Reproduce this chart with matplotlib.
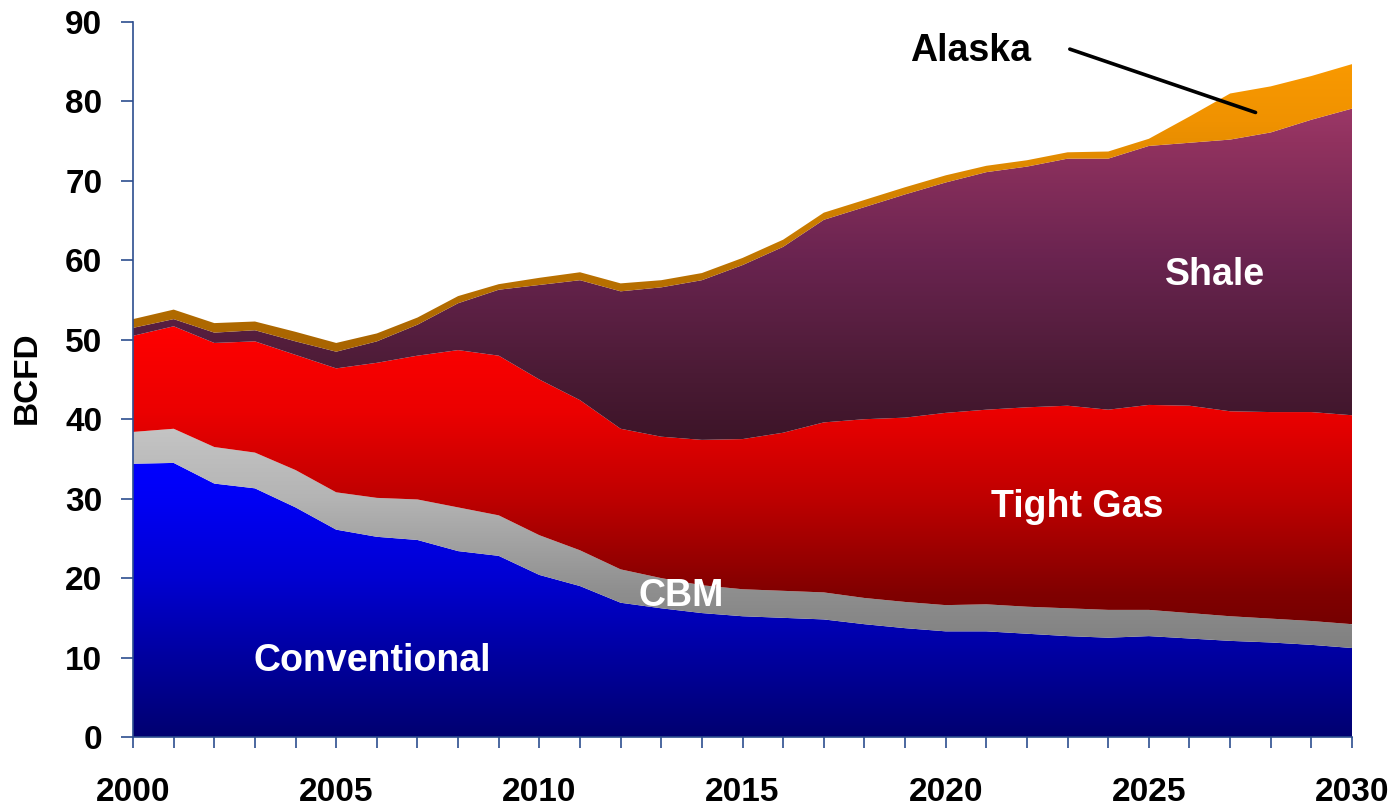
import numpy as np
import matplotlib
matplotlib.use('Agg')
import matplotlib.pyplot as plt
from matplotlib.colors import LinearSegmentedColormap

plt.rcParams['font.family'] = ['Liberation Sans', 'DejaVu Sans']
plt.rcParams['font.weight'] = 'bold'

years = np.arange(2000, 2031)

conventional = [34.4, 34.5, 31.9, 31.3, 28.9, 26.1, 25.2, 24.8, 23.4, 22.8, 20.4,
                19.0, 16.9, 16.2, 15.6, 15.2, 15.0, 14.8, 14.2, 13.7, 13.3,
                13.3, 13.0, 12.7, 12.5, 12.7, 12.4, 12.1, 11.9, 11.6, 11.2]
cbm = [4.0, 4.3, 4.6, 4.5, 4.7, 4.7, 4.9, 5.1, 5.5, 5.1, 5.0,
       4.5, 4.2, 3.8, 3.5, 3.4, 3.4, 3.4, 3.3, 3.3, 3.3,
       3.4, 3.4, 3.5, 3.5, 3.3, 3.2, 3.1, 3.0, 3.0, 3.0]
tight_gas = [12.1, 12.9, 13.1, 14.0, 14.5, 15.6, 17.0, 18.1, 19.8, 20.1, 19.6,
             18.9, 17.7, 17.8, 18.3, 18.9, 19.9, 21.4, 22.5, 23.2, 24.2,
             24.5, 25.1, 25.5, 25.2, 25.8, 26.1, 25.8, 26.0, 26.3, 26.3]
shale = [1.0, 0.9, 1.3, 1.4, 1.7, 2.1, 2.7, 3.9, 5.9, 8.3, 11.9,
         15.1, 17.3, 18.8, 20.1, 21.9, 23.4, 25.5, 26.7, 28.1, 29.0,
         29.9, 30.3, 31.1, 31.6, 32.6, 33.1, 34.2, 35.2, 36.8, 38.6]
alaska = [1.1, 1.2, 1.2, 1.1, 1.2, 1.1, 1.0, 0.9, 0.9, 0.7, 0.9,
          1.0, 1.0, 0.9, 0.9, 0.9, 0.9, 0.9, 0.9, 0.9, 0.9,
          0.8, 0.8, 0.8, 0.9, 0.9, 3.3, 5.8, 5.8, 5.5, 5.6]

series = [conventional, cbm, tight_gas, shale, alaska]

# vertical gradients, bottom -> top of each layer
gradients = [
    [(0, '#000070'), (0.29, '#00009F'), (0.58, '#0000D2'), (0.87, '#0000F5'), (1, '#0000FF')],
    [(0, '#808080'), (0.25, '#8E8E8E'), (0.68, '#B4B4B4'), (1, '#C4C4C4')],
    [(0, '#760000'), (0.1, '#800000'), (0.42, '#BE0000'), (0.71, '#EB0000'), (1, '#FF0000')],
    [(0, '#3D1428'), (0.2, '#4B1B35'), (0.55, '#6A2450'), (0.9, '#91325F'), (1, '#9B3868')],
    [(0, '#A86400'), (0.25, '#B87000'), (0.6, '#DA8700'), (0.8, '#F09200'), (1, '#F99900')],
]

fig = plt.figure(figsize=(13.96, 8.09), dpi=100)
ax = fig.add_axes([0.0953, 0.089, 0.8732, 0.8838])

grad = np.linspace(0, 1, 256).reshape(-1, 1)
base = np.zeros(len(years))
for i, vals in enumerate(series):
    top = base + np.array(vals)
    poly = ax.fill_between(years, base, top, facecolor='none', edgecolor='none')
    cmap = LinearSegmentedColormap.from_list('g%d' % i, gradients[i])
    im = ax.imshow(grad, extent=[2000, 2030, base.min(), top.max()], origin='lower',
                   aspect='auto', cmap=cmap, zorder=1 + i * 0.01, interpolation='bilinear')
    im.set_clip_path(poly.get_paths()[0], ax.transData)
    base = top

ax.set_xlim(2000, 2030)
ax.set_ylim(0, 90)
ax.set_aspect('auto')

spine_col = '#2C4E8F'
for s in ['top', 'right']:
    ax.spines[s].set_visible(False)
for s in ['left', 'bottom']:
    ax.spines[s].set_color(spine_col)
    ax.spines[s].set_linewidth(1.2)
    ax.spines[s].set_zorder(5)

ax.set_yticks(np.arange(0, 91, 10))
ax.set_xticks(years, minor=True)
ax.set_xticks(np.arange(2000, 2031, 5))
ax.tick_params(axis='y', direction='out', length=9, width=1.2, color=spine_col,
               labelsize=24, pad=13)
ax.tick_params(axis='x', which='both', direction='out', length=8, width=1.2,
               color=spine_col, labelsize=24, pad=21)
for lab in ax.get_xticklabels() + ax.get_yticklabels():
    lab.set_fontweight('bold')

ax.set_ylabel('BCFD', fontsize=24, fontweight='bold')
ax.yaxis.set_label_coords(-0.074, 0.502)

lbl = dict(fontsize=27, fontweight='bold', ha='center', va='center', zorder=10)
ax.text(2005.88, 9.6, 'Conventional', color='white', **lbl)
ax.text(2013.49, 17.8, 'CBM', color='white', **lbl)
ax.text(2023.23, 28.9, 'Tight Gas', color='white', **lbl)
ax.text(2026.63, 58.1, 'Shale', color='white', **lbl)
ax.text(2020.6, 86.3, 'Alaska', color='black', **lbl)
ax.annotate('', xy=(2027.69, 78.5), xytext=(2022.99, 86.7),
            arrowprops=dict(arrowstyle='-', lw=2.6, color='black'), zorder=10)

fig.savefig('out.png', dpi=100)
